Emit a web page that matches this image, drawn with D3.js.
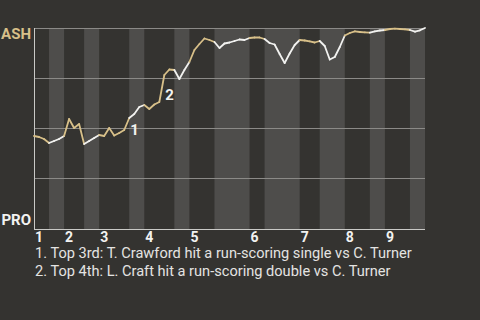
<!DOCTYPE html>
<html>
<head>
<meta charset="utf-8">
<script src="https://cdn.jsdelivr.net/npm/d3@7"></script>
<style>
  html, body { margin: 0; padding: 0; background: #343330; }
  svg { display: block; font-family: Roboto, "Noto Sans", sans-serif; }
</style>
</head>
<body>
<div id="root"></div>
<script>
// game data: one point per plate appearance, ASH win chance in %
var innings = ["1", "2", "3", "4", "5", "6", "7", "8", "9"];
// PA index where each half inning ends (top 1, bot 1, top 2, ...)
var halfInningEnds = [3, 6, 10, 13, 19, 22, 28, 31, 36, 43, 46, 53, 57, 62, 67, 70, 75, 78];
var ashWinPct = [
  46, 45.5, 44.5, 42.5, 43.5, 44.5, 46,            // 0-6
  54.5, 50, 52, 42,                                // 7-10
  43.5, 45, 46.5,                                  // 11-13
  46, 50, 46.25, 47.5, 49, 55,                     // 14-19
  57, 60.5, 61.5,                                  // 20-22
  59.5, 61.75, 63, 76.5, 79.25, 79,                // 23-28
  74.5, 79, 83,                                    // 29-31
  89, 92, 94.75, 94, 93,                           // 32-36
  90, 92.25, 92.75, 93.5, 94.25, 94, 95,           // 37-43
  95.25, 95.25, 94.5,                              // 44-46
  92.5, 91.75, 87, 82.5, 87.25, 91.5, 94,          // 47-53
  93.75, 93.3, 92.75, 93.5,                        // 54-57
  91, 84.25, 85.5, 90.5, 96.25,                    // 58-62
  97.5, 98.35, 98, 97.85, 97.65,                   // 63-67
  98.35, 98.75, 99,                                // 68-70
  99.5, 99.65, 99.5, 99.35, 99,                    // 71-75
  98.15, 98.85, 100                                // 76-78
];
var teamTop = "ASH";
var teamBottom = "PRO";
var noteIndex = [19, 26];
var noteLabel = ["1", "2"];
var noteText = [
  "1. Top 3rd: T. Crawford hit a run-scoring single vs C. Turner",
  "2. Top 4th: L. Craft hit a run-scoring double vs C. Turner"
];
var gridValues = [25, 50, 75, 100];

var W = 480, H = 320;
var tan = "#d8c089", white = "#f2f2f0";

var svg = d3.select("#root").append("svg")
  .attr("width", W)
  .attr("height", H);

svg.append("rect").attr("width", W).attr("height", H).attr("fill", "#343330");

var x = d3.scaleLinear().domain([0, ashWinPct.length - 1]).range([34, 425]);
var y = d3.scaleLinear().domain([0, 100]).range([228, 28]);

// half inning start indices
var starts = [0].concat(halfInningEnds.slice(0, -1));

// bottom half stripes
var halves = halfInningEnds.map(function (e, i) { return { s: starts[i], e: e, top: i % 2 == 0 }; });
svg.append("g").selectAll("rect")
  .data(halves.filter(function (d) { return !d.top; }))
  .enter().append("rect")
  .attr("x", function (d) { return x(d.s); })
  .attr("width", function (d) { return x(d.e) - x(d.s); })
  .attr("y", y(100))
  .attr("height", y(0) - y(100) + 1)
  .attr("fill", "#4e4d4b");

// grid lines
svg.append("g").selectAll("line")
  .data(gridValues)
  .enter().append("line")
  .attr("x1", x(0)).attr("x2", x(ashWinPct.length - 1))
  .attr("y1", function (d) { return Math.round(y(d)) + 0.5; })
  .attr("y2", function (d) { return Math.round(y(d)) + 0.5; })
  .attr("stroke", "#8b8a87")
  .attr("stroke-width", 1);

// axes
svg.append("line")
  .attr("x1", x(0) + 0.5).attr("x2", x(0) + 0.5)
  .attr("y1", y(100)).attr("y2", y(0) + 2)
  .attr("stroke", "#c9c9c6");
svg.append("line")
  .attr("x1", x(0)).attr("x2", x(ashWinPct.length - 1))
  .attr("y1", y(0) + 1.5).attr("y2", y(0) + 1.5)
  .attr("stroke", "#c9c9c6");

// line segments, coloured by which team bats
function halfOf(i) {
  for (var k = 0; k < halfInningEnds.length; k++) {
    if (i <= halfInningEnds[k]) return k;
  }
  return halfInningEnds.length - 1;
}
var segs = [];
for (var i = 1; i < ashWinPct.length; i++) {
  segs.push({ a: i - 1, b: i, top: halfOf(i) % 2 == 0 });
}
svg.append("g").selectAll("line")
  .data(segs)
  .enter().append("line")
  .attr("x1", function (d) { return x(d.a); })
  .attr("y1", function (d) { return y(ashWinPct[d.a]); })
  .attr("x2", function (d) { return x(d.b); })
  .attr("y2", function (d) { return y(ashWinPct[d.b]); })
  .attr("stroke", function (d) { return d.top ? tan : white; })
  .attr("stroke-width", 1.8)
  .attr("stroke-linecap", "round");

// note markers
svg.append("g").selectAll("text")
  .data(noteIndex)
  .enter().append("text")
  .attr("x", function (d) { return x(d) + 1; })
  .attr("y", function (d) { return y((ashWinPct[d] + ashWinPct[d - 1]) / 2) + 11; })
  .attr("fill", white)
  .attr("font-size", 15)
  .attr("font-weight", "bold")
  .text(function (d, i) { return noteLabel[i]; });

// team labels
svg.append("text")
  .attr("x", 31).attr("y", 39)
  .attr("text-anchor", "end")
  .attr("font-size", 15).attr("font-weight", "bold")
  .attr("fill", tan)
  .text(teamTop);
svg.append("text")
  .attr("x", 31).attr("y", 225)
  .attr("text-anchor", "end")
  .attr("font-size", 15).attr("font-weight", "bold")
  .attr("fill", white)
  .text(teamBottom);

// inning labels
svg.append("g").selectAll("text")
  .data(innings)
  .enter().append("text")
  .attr("x", function (d, i) { return x(starts[i * 2]) + 1; })
  .attr("y", 242)
  .attr("font-size", 14)
  .attr("font-weight", "bold")
  .attr("fill", white)
  .text(function (d) { return d; });

// notes below
svg.append("g").selectAll("text")
  .data(noteText)
  .enter().append("text")
  .attr("x", 35)
  .attr("y", function (d, i) { return 258 + i * 18; })
  .attr("font-size", 14.6)
  .attr("fill", "#e4e4e2")
  .text(function (d) { return d; });
</script>
</body>
</html>
